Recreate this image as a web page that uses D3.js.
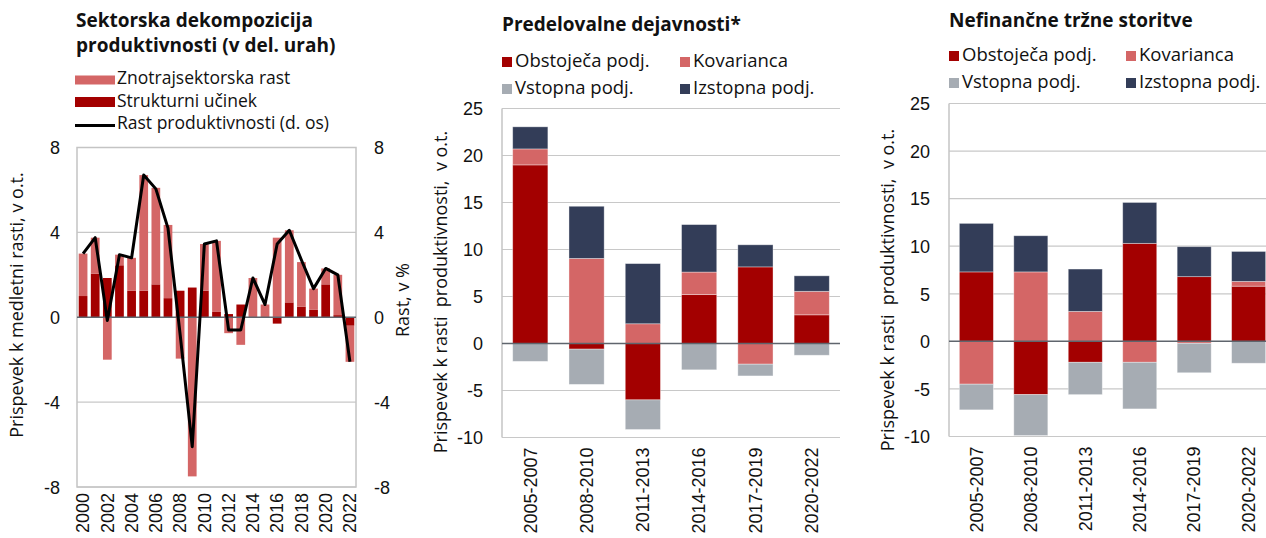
<!DOCTYPE html>
<html>
<head>
<meta charset="utf-8">
<script src="https://cdn.jsdelivr.net/npm/d3@7"></script>
<style>
  body { margin: 0; background: #fff; }
  svg { display: block; font-family: 'Open Sans', sans-serif; }
  .tick text { font-size: 18px; fill: #111; }
  .title { font-size: 19px; font-weight: bold; fill: #111; }
  .legend text { font-size: 18.5px; fill: #111; }
  .legend.sectoral text { font-size: 17.5px; }
  .axis-title { font-size: 18px; fill: #111; white-space: pre; }
</style>
</head>
<body>
<svg id="chart" width="1266" height="538"></svg>
<script>
// left panel: sectoral decomposition
const years = ['2000', '2001', '2002', '2003', '2004', '2005', '2006', '2007', '2008', '2009', '2010', '2011',
  '2012', '2013', '2014', '2015', '2016', '2017', '2018', '2019', '2020', '2021', '2022'];
const strukturniUcinek = [1.0, 2.05, 1.85, 2.45, 1.25, 1.25, 1.55, 0.9, 1.25, 1.4, 1.25, 0.25,
  0.15, 0.6, 0.0, 0.0, -0.3, 0.7, 0.5, 0.35, 1.55, 0.1, -0.4];
const znotrajsektorska = [2.0, 1.7, -2.0, 0.5, 1.55, 5.45, 4.55, 3.45, -1.95, -7.5, 2.2, 3.35,
  -0.75, -1.3, 1.85, 0.6, 3.75, 3.4, 2.1, 1.0, 0.75, 1.9, -1.7];
const rastProduktivnosti = [3.0, 3.75, -0.15, 2.95, 2.8, 6.7, 6.05, 4.2, -0.8, -6.1, 3.45, 3.6,
  -0.6, -0.6, 1.85, 0.6, 3.45, 4.1, 2.7, 1.35, 2.3, 2.0, -2.1];
const yearTicks = ['2000', '2002', '2004', '2006', '2008', '2010', '2012', '2014', '2016', '2018', '2020', '2022'];
const leftTicks = [-8, -4, 0, 4, 8];

// middle + right panels: firm decomposition
const periods = ['2005-2007', '2008-2010', '2011-2013', '2014-2016', '2017-2019', '2020-2022'];
const seriesNames = ['Obstoječa podj.', 'Kovarianca', 'Vstopna podj.', 'Izstopna podj.'];
const predObstojeca = [19.0, -0.6, -6.0, 5.2, 8.15, 3.05];
const predKovarianca = [1.7, 9.05, 2.1, 2.4, -2.2, 2.5];
const predVstopna = [-1.9, -3.75, -3.15, -2.8, -1.25, -1.25];
const predIzstopna = [2.35, 5.55, 6.4, 5.05, 2.35, 1.65];
const storObstojeca = [7.3, -5.6, -2.2, 10.3, 6.8, 5.8];
const storKovarianca = [-4.5, 7.3, 3.15, -2.2, -0.2, 0.5];
const storVstopna = [-2.7, -4.3, -3.4, -4.9, -3.1, -2.3];
const storIzstopna = [5.1, 3.8, 4.45, 4.3, 3.15, 3.15];
const firmTicks = [-10, -5, 0, 5, 10, 15, 20, 25];

const colors = ['#a30000', '#d46666', '#a6acb3', '#333d58'];
const gridColor = '#c8c8c8';
const zeroColor = '#5f656d';
const plain = d => String(d); // keep the hyphen minus like the original

const svg = d3.select('#chart');

function drawSectoral() {
  const left = 77, right = 356, top = 147.5, bottom = 487;
  const g = svg.append('g');

  const x = d3.scaleBand().domain(years).range([left, right]).paddingInner(0.28).paddingOuter(0.14);
  const y = d3.scaleLinear().domain([-8, 8]).range([bottom, top]);
  const y2 = d3.scaleLinear().domain([-8, 8]).range([bottom, top]);

  g.append('g').selectAll('line')
      .data(leftTicks.filter(d => d !== 0))
    .enter().append('line')
      .attr('x1', left).attr('x2', right)
      .attr('y1', d => y(d)).attr('y2', d => y(d))
      .attr('stroke', gridColor).attr('stroke-width', 1.2);

  g.append('rect')
      .attr('x', left).attr('y', top)
      .attr('width', right - left).attr('height', bottom - top)
      .attr('fill', 'none').attr('stroke', '#c4c4c4').attr('stroke-width', 1.5);

  const rows = years.map((yr, i) => ({ year: yr, s: strukturniUcinek[i], w: znotrajsektorska[i] }));
  const stacked = d3.stack().keys(['s', 'w']).offset(d3.stackOffsetDiverging)(rows);
  const fills = [colors[0], colors[1]];

  g.append('g').selectAll('g')
      .data(stacked)
    .enter().append('g')
      .attr('fill', (d, i) => fills[i])
    .selectAll('rect')
      .data(d => d)
    .enter().append('rect')
      .attr('x', d => x(d.data.year))
      .attr('width', x.bandwidth())
      .attr('y', d => y(Math.max(d[0], d[1])))
      .attr('height', d => Math.abs(y(d[0]) - y(d[1])));

  g.append('line')
      .attr('x1', left).attr('x2', right)
      .attr('y1', y(0)).attr('y2', y(0))
      .attr('stroke', zeroColor).attr('stroke-width', 1.5);

  const line = d3.line()
      .x((d, i) => x(years[i]) + x.bandwidth() / 2)
      .y(d => y2(d));

  g.append('path')
      .datum(rastProduktivnosti)
      .attr('d', line)
      .attr('fill', 'none')
      .attr('stroke', '#000')
      .attr('stroke-width', 3)
      .attr('stroke-linejoin', 'round');

  const yAxis = g.append('g')
      .attr('transform', `translate(${left - 17},0)`)
      .call(d3.axisLeft(y).tickValues(leftTicks).tickFormat(plain).tickSize(0).tickPadding(0));
  yAxis.select('.domain').remove();
  yAxis.selectAll('text').attr('dy', '0.35em');

  const yAxis2 = g.append('g')
      .attr('transform', `translate(${right + 18},0)`)
      .call(d3.axisRight(y2).tickValues(leftTicks).tickFormat(plain).tickSize(0).tickPadding(0));
  yAxis2.select('.domain').remove();
  yAxis2.selectAll('text').attr('dy', '0.35em');

  const xAxis = g.append('g')
      .attr('transform', `translate(0,${bottom})`)
      .call(d3.axisBottom(x).tickValues(yearTicks).tickSize(0));
  xAxis.select('.domain').remove();
  xAxis.selectAll('text')
      .attr('transform', 'rotate(-90)')
      .attr('x', -6).attr('y', 0)
      .attr('dy', '0.35em')
      .style('text-anchor', 'end');

  g.append('text')
      .attr('class', 'axis-title')
      .attr('transform', `translate(23,305) rotate(-90)`)
      .attr('text-anchor', 'middle')
      .text('Prispevek k medletni rasti, v o.t.');

  g.append('text')
      .attr('class', 'axis-title')
      .attr('transform', `translate(409,300) rotate(-90)`)
      .attr('text-anchor', 'middle')
      .text('Rast, v %');

  const title = g.append('text').attr('class', 'title');
  title.append('tspan').attr('x', 76).attr('y', 27).text('Sektorska dekompozicija');
  title.append('tspan').attr('x', 76).attr('y', 52).text('produktivnosti (v del. urah)');

  const legend = g.append('g').attr('class', 'legend sectoral');
  legend.append('rect').attr('x', 75).attr('y', 75.5).attr('width', 40).attr('height', 9).attr('fill', colors[1]);
  legend.append('rect').attr('x', 75).attr('y', 97).attr('width', 40).attr('height', 10).attr('fill', colors[0]);
  legend.append('line').attr('x1', 75).attr('x2', 115).attr('y1', 125.5).attr('y2', 125.5)
      .attr('stroke', '#000').attr('stroke-width', 3);
  legend.append('text').attr('x', 117).attr('y', 84).text('Znotrajsektorska rast');
  legend.append('text').attr('x', 117).attr('y', 106.5).text('Strukturni učinek');
  legend.append('text').attr('x', 117).attr('y', 129).text('Rast produktivnosti (d. os)');
}

function drawFirms(cfg) {
  const g = svg.append('g');
  const x = d3.scaleBand().domain(periods).range([cfg.left, cfg.right]).paddingInner(0.375).paddingOuter(0.19);
  const y = d3.scaleLinear().domain([-10, 25]).range([cfg.bottom, cfg.top]);

  g.append('g').selectAll('line')
      .data(firmTicks.filter(d => d !== 0))
    .enter().append('line')
      .attr('x1', cfg.left).attr('x2', cfg.right)
      .attr('y1', d => y(d)).attr('y2', d => y(d))
      .attr('stroke', gridColor).attr('stroke-width', 1.2);

  g.append('line')
      .attr('x1', cfg.left).attr('x2', cfg.left)
      .attr('y1', cfg.top).attr('y2', cfg.bottom)
      .attr('stroke', '#c4c4c4').attr('stroke-width', 1.5);

  const keys = ['o', 'k', 'v', 'i'];
  const rows = periods.map((p, j) => {
    const row = { period: p };
    keys.forEach((k, s) => { row[k] = cfg.series[s][j]; });
    return row;
  });
  const stacked = d3.stack().keys(keys).offset(d3.stackOffsetDiverging)(rows);

  g.append('g').selectAll('g')
      .data(stacked)
    .enter().append('g')
      .attr('fill', (d, i) => colors[i])
    .selectAll('rect')
      .data(d => d)
    .enter().append('rect')
      .attr('x', d => x(d.data.period))
      .attr('width', x.bandwidth())
      .attr('y', d => y(Math.max(d[0], d[1])))
      .attr('height', d => Math.abs(y(d[0]) - y(d[1])))
      .attr('stroke', 'rgba(255,255,255,0.45)')
      .attr('stroke-width', 0.8);

  g.append('line')
      .attr('x1', cfg.left).attr('x2', cfg.right)
      .attr('y1', y(0)).attr('y2', y(0))
      .attr('stroke', zeroColor).attr('stroke-width', 1.5);

  const yAxis = g.append('g')
      .attr('transform', `translate(${cfg.left - 19},0)`)
      .call(d3.axisLeft(y).tickValues(firmTicks).tickFormat(plain).tickSize(0).tickPadding(0));
  yAxis.select('.domain').remove();
  yAxis.selectAll('text').attr('dy', '0.35em');

  const xAxis = g.append('g')
      .attr('transform', `translate(0,${cfg.bottom})`)
      .call(d3.axisBottom(x).tickSize(0));
  xAxis.select('.domain').remove();
  xAxis.selectAll('text')
      .attr('transform', 'rotate(-90)')
      .attr('x', -10).attr('y', 0)
      .attr('dy', '0.35em')
      .style('text-anchor', 'end');

  g.append('text')
      .attr('class', 'axis-title')
      .attr('transform', `translate(${cfg.left - 55},${cfg.titleY}) rotate(-90)`)
      .attr('text-anchor', 'middle')
      .text('Prispevek k rasti  produktivnosti,  v o.t.');

  g.append('text')
      .attr('class', 'title')
      .attr('x', cfg.left).attr('y', cfg.headY)
      .text(cfg.title);

  const legend = g.append('g').attr('class', 'legend');
  seriesNames.forEach((name, i) => {
    const lx = i % 2 === 0 ? cfg.left : cfg.col2;
    const ly = cfg.legY + Math.floor(i / 2) * 27;
    legend.append('rect').attr('x', lx).attr('y', ly - 9.5).attr('width', 10).attr('height', 10).attr('fill', colors[i]);
    legend.append('text').attr('x', lx + 13).attr('y', ly).text(name);
  });
}

drawSectoral();

drawFirms({
  title: 'Predelovalne dejavnosti*',
  series: [predObstojeca, predKovarianca, predVstopna, predIzstopna],
  left: 502, right: 840, top: 108.5, bottom: 437.5,
  headY: 31, legY: 66.5, col2: 680, titleY: 292
});

drawFirms({
  title: 'Nefinančne tržne storitve',
  series: [storObstojeca, storKovarianca, storVstopna, storIzstopna],
  left: 949, right: 1276, top: 103.5, bottom: 436.5,
  headY: 27, legY: 60.5, col2: 1126, titleY: 290
});
</script>
</body>
</html>
